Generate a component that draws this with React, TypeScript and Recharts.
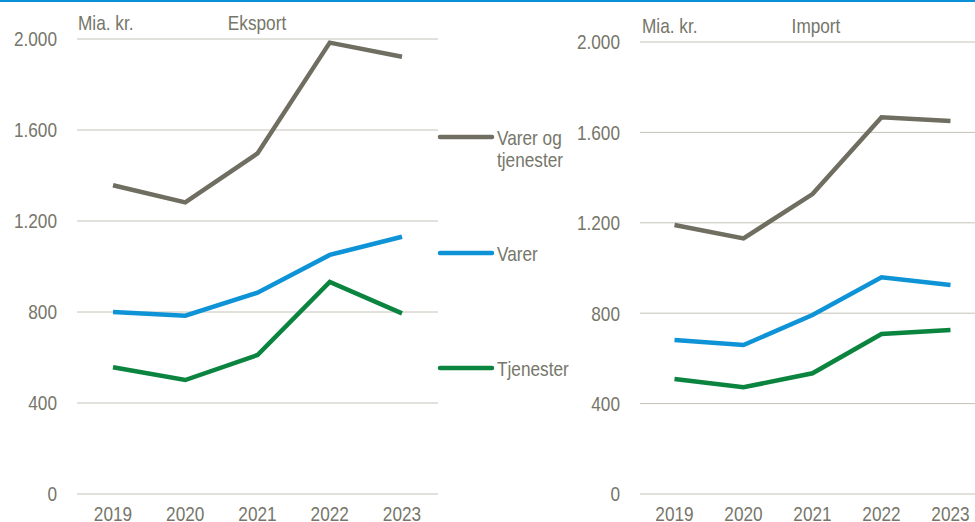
import { CartesianGrid, Line, LineChart, XAxis, YAxis } from "recharts";

const years = ["2019", "2020", "2021", "2022", "2023"];
const eksportTotal = [1357, 1282, 1497, 1984, 1922];
const eksportVarer = [800, 784, 885, 1051, 1131];
const eksportTjenester = [557, 501, 611, 932, 794];
const importTotal = [1190, 1131, 1327, 1667, 1650];
const importVarer = [681, 659, 792, 959, 925];
const importTjenester = [509, 472, 534, 708, 726];
const yTicks = [0, 400, 800, 1200, 1600, 2000];
const legendLabels = [["Varer og", "tjenester"], ["Varer"], ["Tjenester"]];

// no narrow font installed, so squeeze Liberation Sans like Arial Narrow
const FONT = "'Liberation Sans', Arial, sans-serif";
const SQUEEZE = 0.82;
const TEXT = "#76766a";
const GRID = "#c4c2b8";
const COLORS = ["#6f6e60", "#0e93d6", "#0a843f"];
const KEYS = ["total", "varer", "tjenester"];

const eksport = years.map((year, i) => ({
  year,
  total: eksportTotal[i],
  varer: eksportVarer[i],
  tjenester: eksportTjenester[i],
}));
const importRows = years.map((year, i) => ({
  year,
  total: importTotal[i],
  varer: importVarer[i],
  tjenester: importTjenester[i],
}));

const fmt = (v: number) => String(v).replace(/\B(?=(\d{3})+(?!\d))/g, ".");

function NarrowText({
  x,
  y,
  anchor,
  dy,
  children,
}: {
  x: number;
  y: number;
  anchor: "start" | "middle" | "end";
  dy?: string;
  children: React.ReactNode;
}) {
  return (
    <text
      transform={`translate(${x},${y}) scale(${SQUEEZE},1)`}
      textAnchor={anchor}
      dy={dy}
      fill={TEXT}
      fontSize={21}
      fontFamily={FONT}
    >
      {children}
    </text>
  );
}

const XTick = (p: any) => (
  <NarrowText x={p.x} y={p.y} anchor="middle" dy="0.71em">
    {p.payload.value}
  </NarrowText>
);
const YTick = (p: any) => (
  <NarrowText x={p.x} y={p.y} anchor="end" dy="0.355em">
    {fmt(p.payload.value)}
  </NarrowText>
);

function Panel({
  data,
  width,
  top,
  yWidth,
  right,
  pad,
}: {
  data: typeof eksport;
  width: number;
  top: number;
  yWidth: number;
  right: number;
  pad: number;
}) {
  return (
    <LineChart
      width={width}
      height={522}
      data={data}
      margin={{ top, right, left: 0, bottom: 0 }}
    >
      <CartesianGrid vertical={false} stroke={GRID} strokeWidth={1} />
      <XAxis
        dataKey="year"
        axisLine={false}
        tickLine={false}
        tickSize={0}
        tickMargin={12}
        height={28}
        tick={<XTick />}
        padding={{ left: pad, right: pad }}
      />
      <YAxis
        domain={[0, 2000]}
        ticks={yTicks}
        axisLine={false}
        tickLine={false}
        tickSize={0}
        tickMargin={20}
        width={yWidth}
        tick={<YTick />}
        interval={0}
      />
      {KEYS.map((k, i) => (
        <Line
          key={k}
          dataKey={k}
          stroke={COLORS[i]}
          strokeWidth={4.5}
          dot={false}
          isAnimationActive={false}
          type="linear"
        />
      ))}
    </LineChart>
  );
}

export default function App() {
  const legendY = [137, 253, 368];
  return (
    <div
      style={{
        position: "fixed",
        left: 0,
        top: 0,
        width: 975,
        height: 522,
        overflow: "hidden",
        background: "#fff",
      }}
    >
      <div style={{ position: "absolute", left: 0, top: 0, width: 975, height: 2, background: "#0a90d4" }} />
      <div style={{ position: "absolute", left: 0, top: 0 }}>
        <Panel data={eksport} width={450} top={39} yWidth={77} right={12} pad={36} />
      </div>
      <div style={{ position: "absolute", left: 560, top: 0 }}>
        <Panel data={importRows} width={430} top={42} yWidth={80} right={5} pad={34.5} />
      </div>
      <svg
        width={975}
        height={522}
        style={{ position: "absolute", left: 0, top: 0, pointerEvents: "none" }}
      >
        <NarrowText x={78} y={30} anchor="start">Mia. kr.</NarrowText>
        <NarrowText x={257} y={30} anchor="middle">Eksport</NarrowText>
        <NarrowText x={642} y={33} anchor="start">Mia. kr.</NarrowText>
        <NarrowText x={816} y={33} anchor="middle">Import</NarrowText>
        {legendLabels.map((lines, i) => (
          <g key={i}>
            <line
              x1={440}
              x2={492}
              y1={legendY[i]}
              y2={legendY[i]}
              stroke={COLORS[i]}
              strokeWidth={4.5}
              strokeLinecap="round"
            />
            {lines.map((t, j) => (
              <NarrowText key={j} x={497} y={legendY[i] + 8 + j * 22} anchor="start">
                {t}
              </NarrowText>
            ))}
          </g>
        ))}
      </svg>
    </div>
  );
}
